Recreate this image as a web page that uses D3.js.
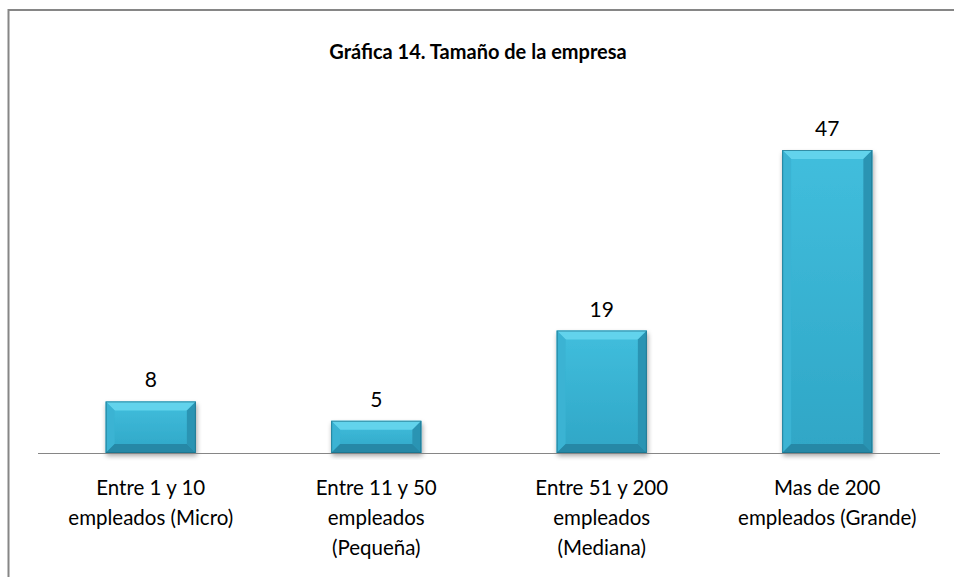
<!DOCTYPE html>
<html><head><meta charset="utf-8">
<script src="https://cdn.jsdelivr.net/npm/d3@7"></script>
<style>body{margin:0;background:#fff}svg{display:block}</style>
</head><body>
<svg id="c" width="954" height="577"></svg>
<script>
const title = "Gráfica 14. Tamaño de la empresa";
const categories = [
  ["Entre 1 y 10", "empleados (Micro)"],
  ["Entre 11 y 50", "empleados", "(Pequeña)"],
  ["Entre 51 y 200", "empleados", "(Mediana)"],
  ["Mas de 200", "empleados (Grande)"]
];
const values = [8, 5, 19, 47];

const svg = d3.select("#c");
const font = "Lato, 'Open Sans', sans-serif";

// outer border
svg.append("rect").attr("x", 8.5).attr("y", 10).attr("width", 960).attr("height", 600)
  .attr("fill", "#fff").attr("stroke", "#868686").attr("stroke-width", 2);

svg.append("text").attr("x", 478).attr("y", 59).attr("text-anchor", "middle")
  .attr("font-family", font).attr("font-weight", "bold").attr("font-size", 20)
  .attr("fill", "#000").text(title);

const x = d3.scaleBand().domain(d3.range(values.length)).range([38, 940]).paddingInner(0.6).paddingOuter(0.3);
const y = d3.scaleLinear().domain([0, 47]).range([453, 150]);

const defs = svg.append("defs");
const f = defs.append("filter").attr("id", "sh").attr("x", "-20%").attr("y", "-20%").attr("width", "140%").attr("height", "140%");
f.append("feGaussianBlur").attr("in", "SourceAlpha").attr("stdDeviation", 2.5);
f.append("feOffset").attr("dx", 1).attr("dy", 3).attr("result", "ob");
f.append("feComponentTransfer").append("feFuncA").attr("type", "linear").attr("slope", 0.35);
const m = f.append("feMerge"); m.append("feMergeNode"); m.append("feMergeNode").attr("in", "SourceGraphic");

const g = defs.append("linearGradient").attr("id", "face").attr("x1", 0).attr("y1", 0).attr("x2", 0).attr("y2", 1);
g.append("stop").attr("offset", "0%").attr("stop-color", "#41bedd");
g.append("stop").attr("offset", "100%").attr("stop-color", "#2fa6c6");

const bars = svg.append("g").selectAll("g").data(values).join("g").attr("filter", "url(#sh)");
const b = 9;
bars.each(function(d, i) {
  const sel = d3.select(this);
  const x0 = x(i), x1 = x(i) + x.bandwidth(), y0 = y(d), y1 = y(0);
  const bb = Math.min(b, (y1 - y0) / 2.2);
  sel.append("rect").attr("x", x0).attr("y", y0).attr("width", x1 - x0).attr("height", y1 - y0).attr("fill", "url(#face)");
  sel.append("polygon").attr("points", [[x0,y0],[x1,y0],[x1-bb,y0+bb],[x0+bb,y0+bb]].join(" ")).attr("fill", "#62d3ec");
  sel.append("polygon").attr("points", [[x0,y0],[x0+bb,y0+bb],[x0+bb,y1-bb],[x0,y1]].join(" ")).attr("fill", "#3ab3d3");
  sel.append("polygon").attr("points", [[x1,y0],[x1-bb,y0+bb],[x1-bb,y1-bb],[x1,y1]].join(" ")).attr("fill", "#2b94b3");
  sel.append("polygon").attr("points", [[x0,y1],[x0+bb,y1-bb],[x1-bb,y1-bb],[x1,y1]].join(" ")).attr("fill", "#2588a6");
  sel.append("rect").attr("x", x0+0.5).attr("y", y0+0.5).attr("width", x1-x0-1).attr("height", y1-y0-1)
    .attr("fill", "none").attr("stroke", "#1d6f88").attr("stroke-width", 1).attr("stroke-opacity", 0.7);
});

svg.append("line").attr("x1", 38).attr("x2", 940).attr("y1", 453.5).attr("y2", 453.5)
  .attr("stroke", "#868686").attr("stroke-width", 1.2);

svg.append("g").selectAll("text").data(values).join("text")
  .attr("x", (d, i) => x(i) + x.bandwidth() / 2).attr("y", d => y(d) - 14)
  .attr("text-anchor", "middle").attr("font-family", font).attr("font-size", 21).attr("fill", "#000")
  .text(d => d);

const lab = svg.append("g").selectAll("text").data(categories).join("text")
  .attr("x", (d, i) => x(i) + x.bandwidth() / 2).attr("y", 495)
  .attr("text-anchor", "middle").attr("font-family", font).attr("font-size", 20.5).attr("fill", "#000");
lab.selectAll("tspan").data(d => d).join("tspan")
  .attr("x", function() { return d3.select(this.parentNode).attr("x"); })
  .attr("dy", (d, j) => j === 0 ? 0 : 30).text(d => d);
</script>
</body></html>
